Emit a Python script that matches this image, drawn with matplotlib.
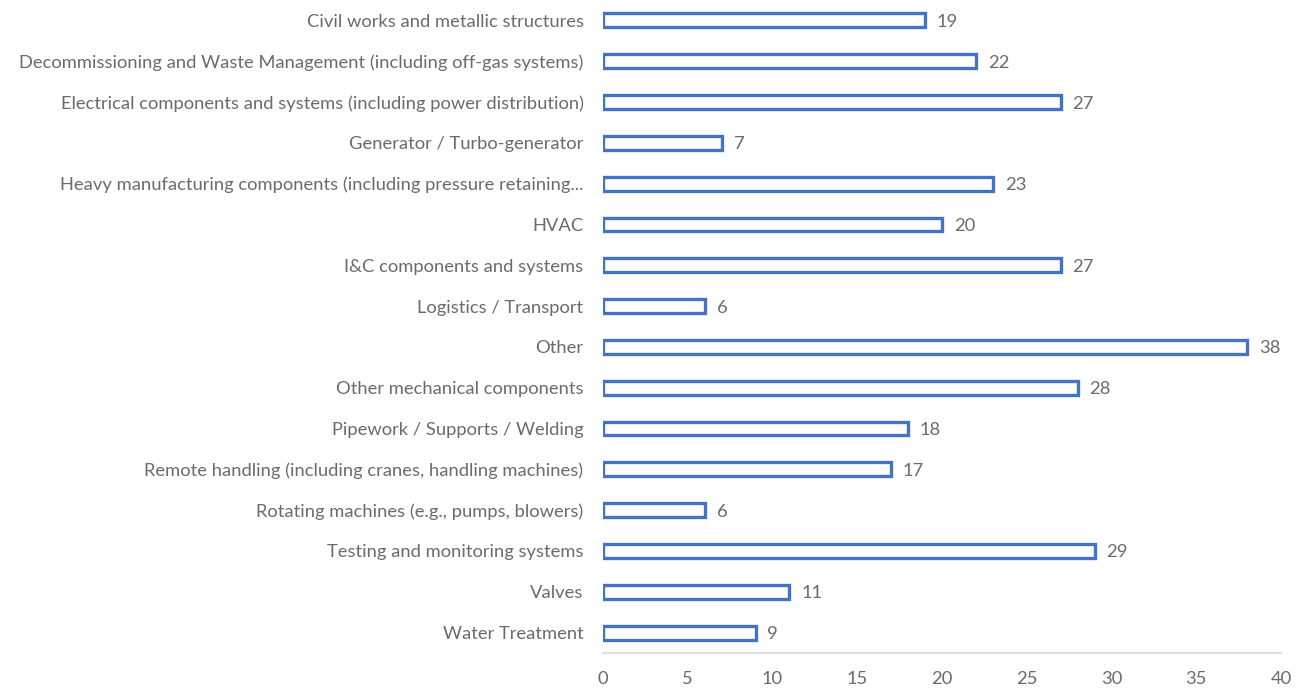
import matplotlib
matplotlib.use("Agg")
import matplotlib.pyplot as plt

categories = [
    "Civil works and metallic structures",
    "Decommissioning and Waste Management (including off-gas systems)",
    "Electrical components and systems (including power distribution)",
    "Generator / Turbo-generator",
    "Heavy manufacturing components (including pressure retaining...",
    "HVAC",
    "I&C components and systems",
    "Logistics / Transport",
    "Other",
    "Other mechanical components",
    "Pipework / Supports / Welding",
    "Remote handling (including cranes, handling machines)",
    "Rotating machines (e.g., pumps, blowers)",
    "Testing and monitoring systems",
    "Valves",
    "Water Treatment",
]
values = [19, 22, 27, 7, 23, 20, 27, 6, 38, 28, 18, 17, 6, 29, 11, 9]
xticks = [0, 5, 10, 15, 20, 25, 30, 35, 40]

plt.rcParams['font.family'] = ['Lato', 'DejaVu Sans']
gray = '#6B6B6B'
blue = '#4472C4'
fs = 13.2

fig = plt.figure(figsize=(13.09, 6.91), dpi=100)
ax = fig.add_axes([603/1309, 1 - 653/691, (1281-603)/1309, 653/691])

pos = list(range(len(categories)))
ax.barh(pos, values, height=0.34, color='white', edgecolor=blue, linewidth=2.4)
for p, v in zip(pos, values):
    ax.text(v + 0.7, p, str(v), va='center_baseline', ha='left', fontsize=fs, color=gray)

ax.set_ylim(len(categories) - 0.5, -0.5)
ax.set_xlim(0, 40)
ax.set_yticks(pos)
ax.set_yticklabels(categories, fontsize=fs, color=gray, va='center_baseline')
ax.set_xticks(xticks)
ax.set_xticklabels([str(t) for t in xticks], fontsize=fs, color=gray)
ax.tick_params(axis='both', length=0)
ax.tick_params(axis='y', pad=14)
ax.tick_params(axis='x', pad=13)
for s in ['top', 'right', 'left']:
    ax.spines[s].set_visible(False)
ax.spines['bottom'].set_color('#D9D9D9')
ax.spines['bottom'].set_linewidth(1.2)

fig.savefig('out.png', dpi=100)
